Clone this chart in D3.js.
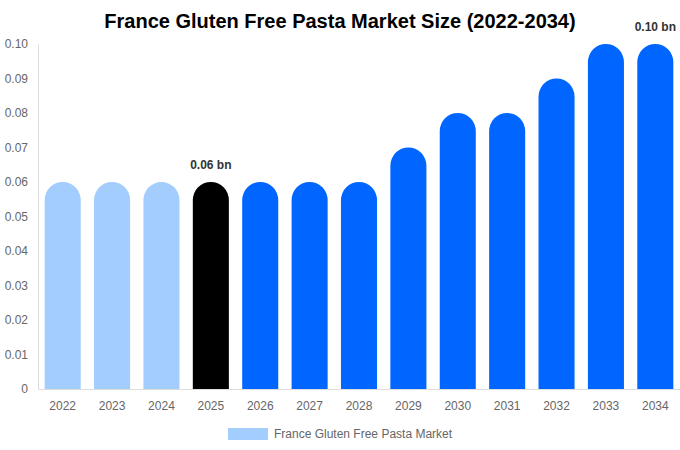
<!DOCTYPE html>
<html>
  <head>
    <meta charset="utf-8">
    <title>France Gluten Free Pasta Market Size</title>
    <style>
      body { margin: 0; background: #fff; }
      text { font-family: "Liberation Sans", Arial, sans-serif; }
      .tick text { fill: #666; font-size: 12px; }
      .tick line { display: none; }
      .domain { stroke: #ddd; }
    </style>
  </head>
  <body>
    <div id="chart"></div>
    <script src="https://cdn.jsdelivr.net/npm/d3@7/dist/d3.min.js"></script>
    <script>
    var years = ["2022", "2023", "2024", "2025", "2026", "2027", "2028",
                 "2029", "2030", "2031", "2032", "2033", "2034"];
    var values = [0.06, 0.06, 0.06, 0.06, 0.06, 0.06, 0.06,
                  0.07, 0.08, 0.08, 0.09, 0.10, 0.10];
    var yTicks = [0, 0.01, 0.02, 0.03, 0.04, 0.05, 0.06, 0.07, 0.08, 0.09, 0.10];
    var labelled = ["2025", "2034"];
    var seriesName = "France Gluten Free Pasta Market";

    var width = 680, height = 450;
    var margin = { left: 38, right: 0, top: 44, bottom: 61 };

    var svg = d3.select("#chart").append("svg")
        .attr("width", width)
        .attr("height", height);

    svg.append("text")
        .attr("x", width / 2)
        .attr("y", 28)
        .attr("text-anchor", "middle")
        .style("font-size", "20px")
        .style("font-weight", "bold")
        .attr("fill", "#000")
        .text("France Gluten Free Pasta Market Size (2022-2034)");

    var x = d3.scaleBand()
        .domain(years)
        .range([margin.left, width - margin.right])
        .paddingInner(0.27)
        .paddingOuter(0.135);

    var y = d3.scaleLinear()
        .domain([0, 0.10])
        .range([height - margin.bottom, margin.top]);

    function color(d, i) {
      if (+d < 2025) return "#a2cdfd";
      if (d === "2025") return "#000000";
      return "#0066ff";
    }

    // axes
    svg.append("g")
        .attr("transform", "translate(" + margin.left + ",0)")
        .call(d3.axisLeft(y).tickValues(yTicks).tickSize(0).tickPadding(10)
          .tickFormat(function(d) { return d === 0 ? "0" : d3.format(".2f")(d); }));

    svg.append("g")
        .attr("transform", "translate(0," + (height - margin.bottom) + ")")
        .call(d3.axisBottom(x).tickSize(0).tickPadding(12));

    svg.selectAll(".domain").attr("stroke", "#ddd");

    // bars with rounded tops
    var bw = x.bandwidth();
    var r = bw / 2;
    svg.selectAll(".bar")
        .data(years)
        .enter()
        .append("path")
        .attr("class", "bar")
        .attr("fill", color)
        .attr("d", function(d, i) {
          var x0 = x(d), x1 = x(d) + bw;
          var y0 = y(0), yt = y(values[i]);
          return "M" + x0 + "," + y0 +
                 "V" + (yt + r) +
                 "A" + r + "," + r + " 0 0 1 " + x1 + "," + (yt + r) +
                 "V" + y0 + "Z";
        });

    svg.selectAll(".val")
        .data(years.filter(function(d) { return labelled.indexOf(d) >= 0; }))
        .enter()
        .append("text")
        .attr("class", "val")
        .attr("x", function(d) { return x(d) + bw / 2; })
        .attr("y", function(d) { return y(values[years.indexOf(d)]) - 13; })
        .attr("text-anchor", "middle")
        .style("font-size", "12px")
        .style("font-weight", "bold")
        .attr("fill", "#333")
        .text(function(d) { return values[years.indexOf(d)].toFixed(2) + " bn"; });

    // legend
    var legend = svg.append("g").attr("transform", "translate(228,428)");
    legend.append("rect")
        .attr("width", 40)
        .attr("height", 12)
        .attr("fill", "#a2cdfd");
    legend.append("text")
        .attr("x", 46)
        .attr("y", 10)
        .style("font-size", "12px")
        .attr("fill", "#666")
        .text(seriesName);
    </script>
  </body>
</html>
